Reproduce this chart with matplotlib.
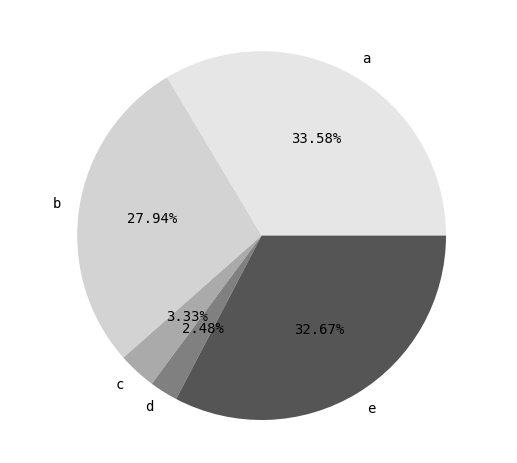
import matplotlib
matplotlib.use('Agg')
import matplotlib.pyplot as plt

# reference text is a half-width monospaced face
plt.rcParams['font.family'] = ['DejaVu Sans Mono', 'DejaVu Sans']

# data
labels = ['a', 'b', 'c', 'd', 'e']
values = [33.58, 27.94, 3.33, 2.48, 32.67]
colors = ['#e6e6e6', '#d3d3d3', '#aaaaaa', '#808080', '#555555']

fig = plt.figure(figsize=(5.17, 4.63), dpi=100)
# square axes so the pie sits where it does in the reference
ax = fig.add_axes([31.1 / 517, -3.1 / 463, 461 / 517, 461 / 463])

ax.pie(values, labels=labels, colors=colors, autopct='%.2f%%')
ax.set_xlim(-1.25, 1.25)
ax.set_ylim(-1.25, 1.25)

plt.savefig('out.png', dpi=100)
